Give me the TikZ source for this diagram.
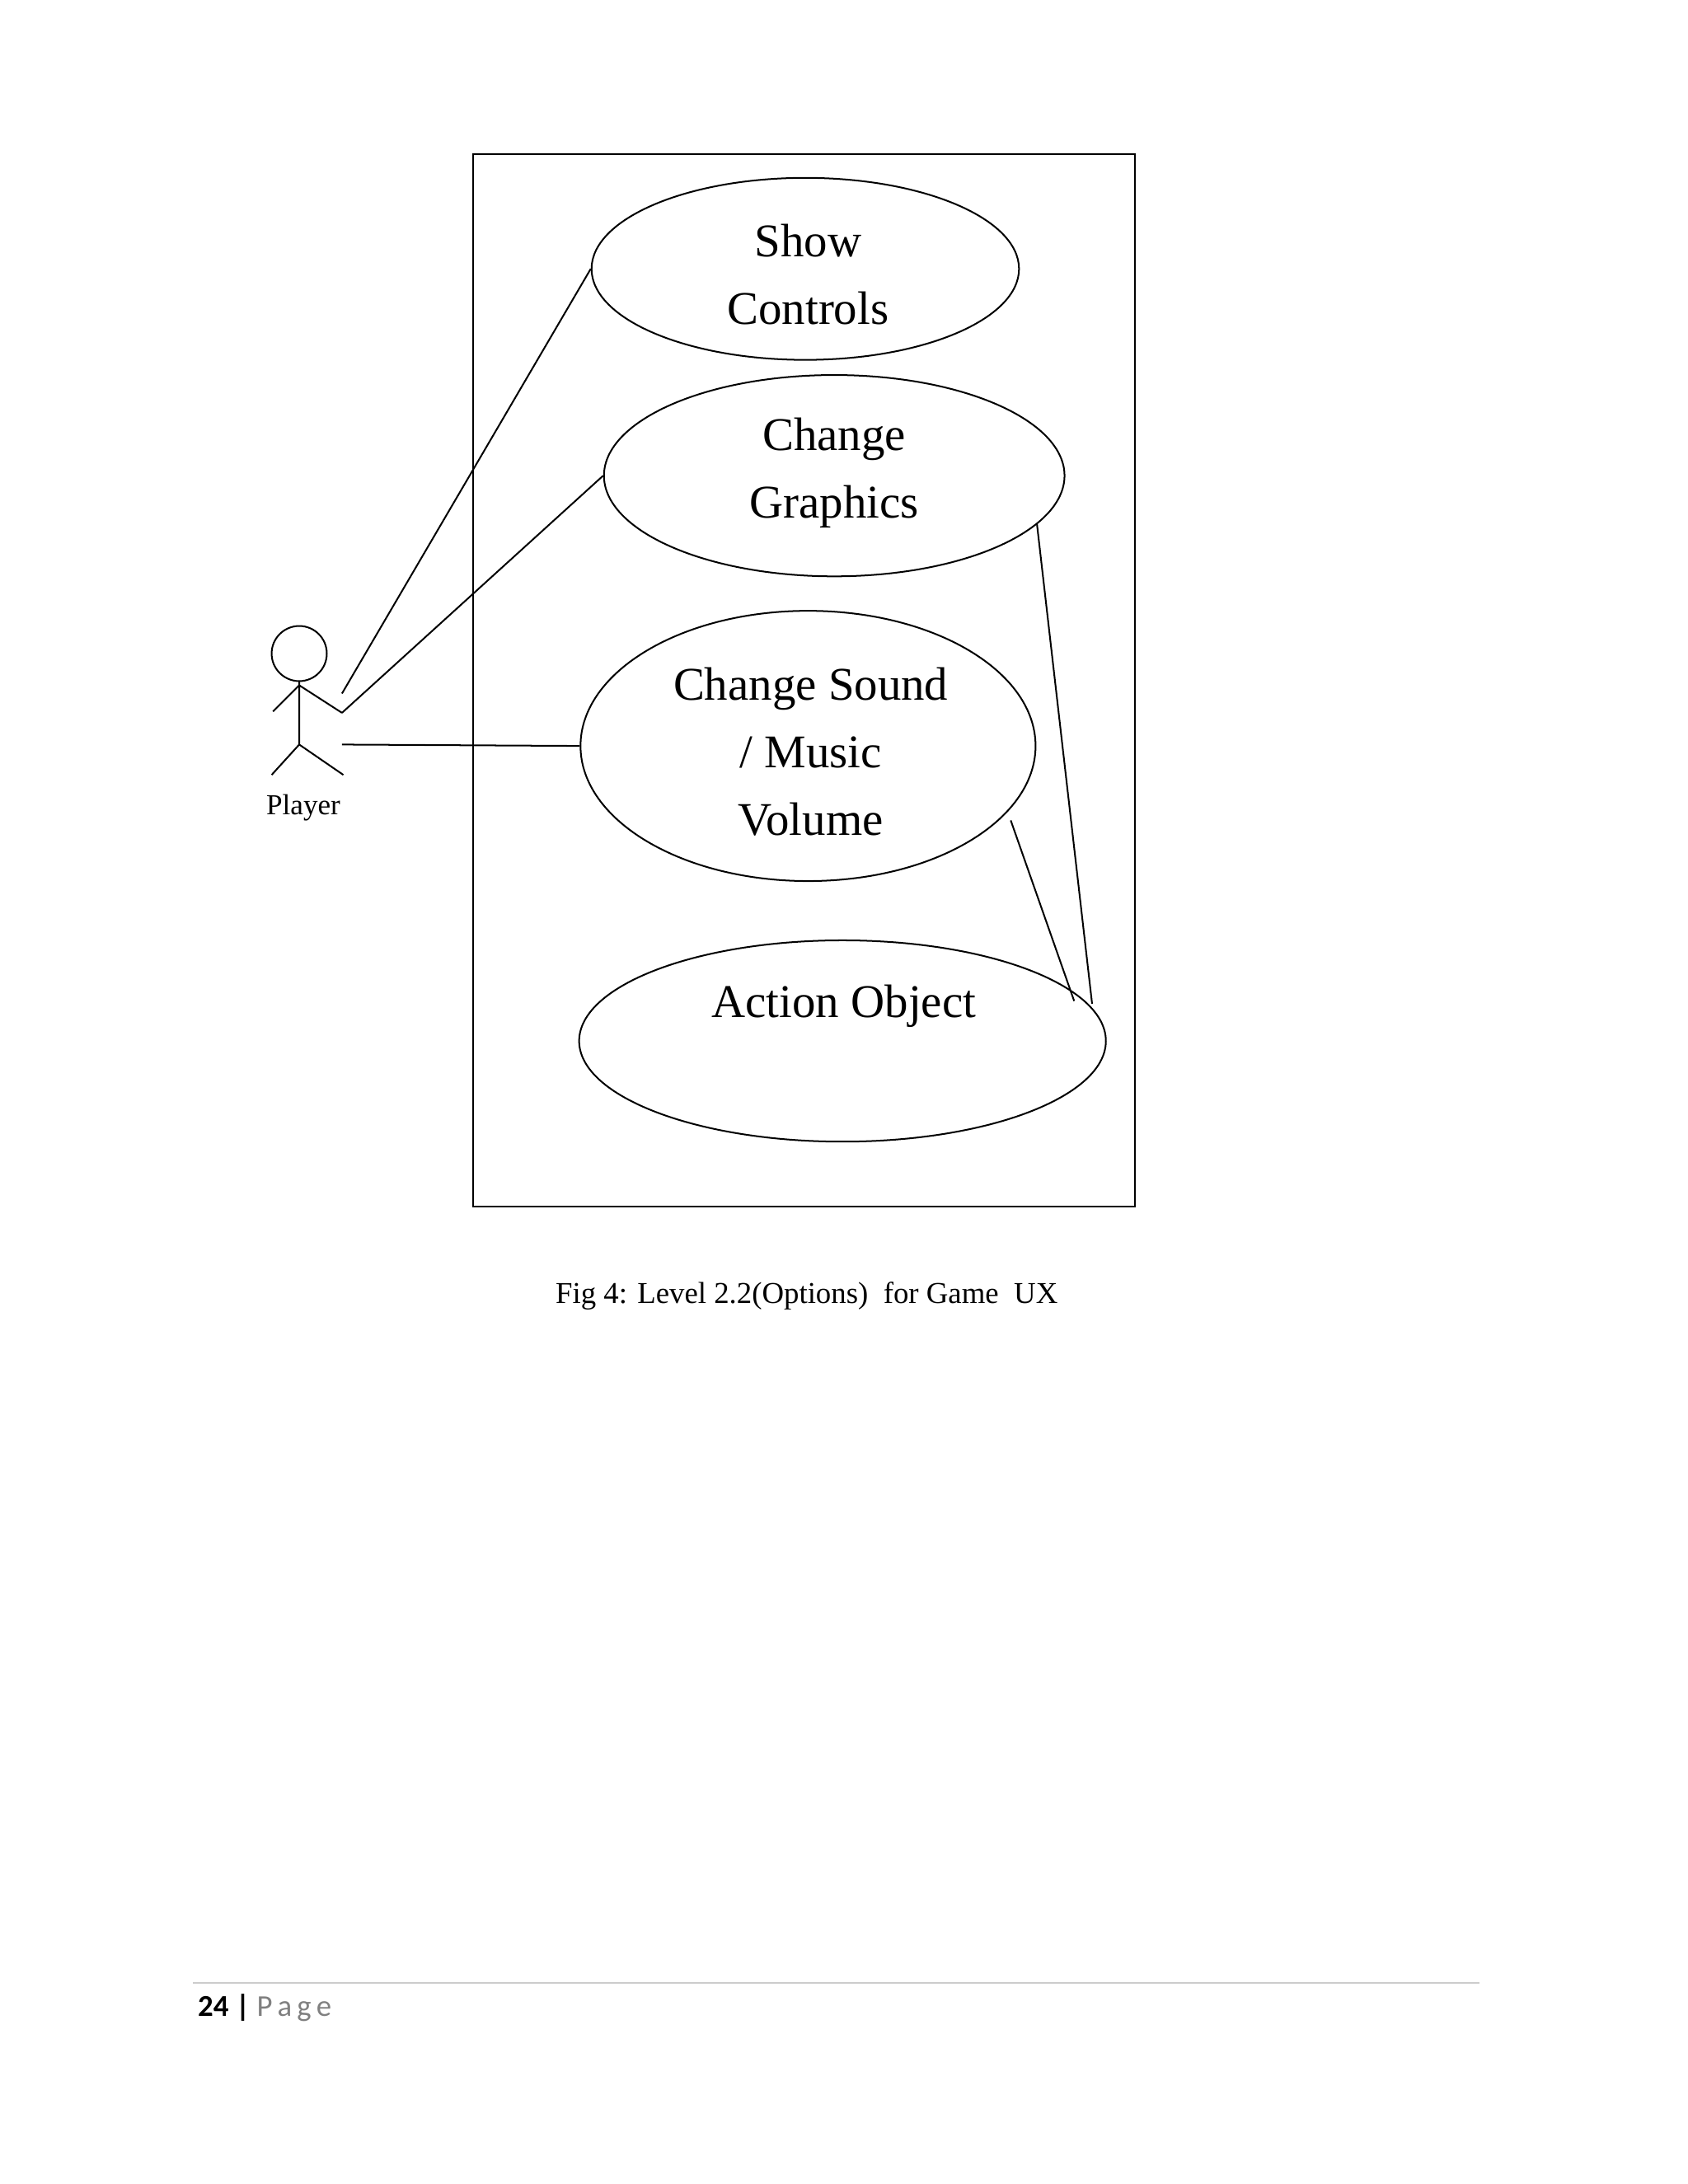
\documentclass[tikz,border=0pt]{standalone}
\usepackage{fontspec}
\setmainfont{Liberation Serif}
\newfontfamily\footfont{Carlito}
\usetikzlibrary{shapes.geometric}
\begin{document}
\begin{tikzpicture}[x=1pt,y=-1pt,
  usecase/.style={draw,ellipse,line width=1.2pt,inner sep=0pt,align=center,font=\fontsize{34}{49}\selectfont},
  link/.style={line width=1.2pt}]
\useasboundingbox (0,0) rectangle (1224,1584);
% system boundary
\draw[line width=1.3pt] (343,112) rectangle (823,875);
% use cases
\node[usecase,minimum width=310pt,minimum height=132pt] (show) at (584,195) {};
\node[font=\fontsize{34}{49}\selectfont,align=center] at (586,199) {Show\\Controls};
\node[usecase,minimum width=334pt,minimum height=146pt] (graph) at (605,345) {};
\node[font=\fontsize{34}{49}\selectfont,align=center] at (605,343) {Change\\Graphics};
\node[usecase,minimum width=330pt,minimum height=196pt] (sound) at (586,541) {};
\node[font=\fontsize{34}{49}\selectfont,align=center] at (588,545) {Change Sound\\/ Music\\Volume};
\node[usecase,minimum width=382pt,minimum height=146pt] (action) at (611,755) {};
\node[font=\fontsize{34}{49}\selectfont] at (612,730) {Action Object};
% actor
\draw[line width=1.2pt] (217,474) circle (20);
\draw[line width=1.2pt] (217,494) -- (217,540)
  (198,516) -- (217,497) -- (248,517)
  (197,562) -- (217,540) -- (249,562);
\node[font=\fontsize{21}{25}\selectfont] at (220,586) {Player};
% connectors
\coordinate (a1) at (248,503);
\coordinate (a2) at (248,517);
\coordinate (a3) at (248,540);
\coordinate (g1) at (752,380);
\coordinate (s1) at (733,595);
\coordinate (o1) at (792,728);
\coordinate (o2) at (779,726);
\draw[link] (a1) -- (show.west);
\draw[link] (a2) -- (graph.west);
\draw[link] (a3) -- (sound.west);
\draw[link] (g1) -- (o1);
\draw[link] (s1) -- (o2);
% caption
\node[font=\fontsize{22}{26}\selectfont] at (585,940) {Fig 4: Level 2.2(Options)\ \ for Game\ \ UX};
% footer
\draw[gray!40,line width=1pt] (140,1438) -- (1073,1438);
\node[anchor=west,font=\footfont\fontsize{22}{26}\selectfont] at (140,1456) {\textbf{24 |} \textcolor{gray}{P\,a\,g\,e}};
\end{tikzpicture}
\end{document}
